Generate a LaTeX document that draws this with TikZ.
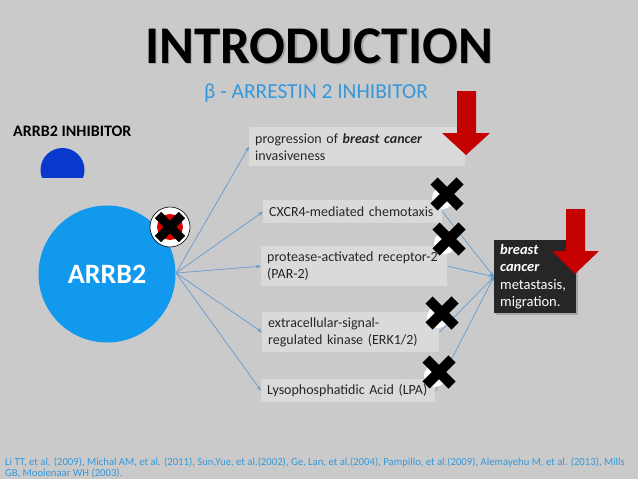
\documentclass[tikz,border=0pt]{standalone}
\usepackage{fontspec}
\setmainfont{Carlito}
\usetikzlibrary{arrows.meta}
\definecolor{bggray}{RGB}{202,202,202}
\definecolor{boxgray}{RGB}{218,218,218}
\definecolor{darkbox}{RGB}{38,38,38}
\definecolor{titleblue}{RGB}{52,152,219}
\definecolor{circblue}{RGB}{17,153,238}
\definecolor{inhblue}{RGB}{8,56,204}
\definecolor{arrowred}{RGB}{196,0,0}
\definecolor{linkblue}{RGB}{100,155,210}
\tikzset{
  lightbox/.style={fill=boxgray, draw=none, anchor=north west, align=left,
    inner xsep=6pt, inner ysep=2pt, font=\fontsize{14}{17}\selectfont, text=black!85,
    execute at begin node={\hyphenpenalty=10000\exhyphenpenalty=10000}},
  link/.style={draw=linkblue, line width=0.7pt, -{Stealth[length=5pt,width=3.5pt]}},
  redarrow/.style={fill=arrowred, draw=none},
  xmark/.pic={
    \fill[white] (-4,4) circle (11);
    \draw[black, line width=10pt] (-13,-13) -- (13,13) (-13,13) -- (13,-13);
  }
}
\begin{document}
\begin{tikzpicture}[x=1pt,y=-1pt]
\useasboundingbox (0,0) rectangle (638,479);
\fill[bggray] (0,0) rectangle (638,479);

% title
\node[anchor=base, text=black!50, opacity=0.5, font=\fontsize{53}{53}\selectfont\bfseries] at (320.5,64.5) {INTRODUCTION};
\node[anchor=base, text=black, font=\fontsize{53}{53}\selectfont\bfseries] (title) at (319,63) {INTRODUCTION};
\node[anchor=base, text=titleblue, font=\fontsize{21.4}{21.4}\selectfont] (subtitle) at (316,98) {β - ARRESTIN 2 INHIBITOR};

% inhibitor
\node[anchor=base west, inner xsep=0pt, font=\fontsize{16}{16}\selectfont\bfseries] (inhlabel) at (13,136) {ARRB2 INHIBITOR};
\begin{scope}
  \clip (30,140) rectangle (95,177);
  \fill[inhblue] (62.5,170) circle (22);
\end{scope}

% ARRB2 circle
\node[circle, fill=circblue, minimum size=137pt, inner sep=0pt, text=white,
      font=\fontsize{28}{28}\selectfont\bfseries] (arrb) at (107,274) {ARRB2};
\coordinate (src) at (176,273);

% boxes
\node[lightbox, minimum height=39pt, text width=204pt] (b1) at (249,127)
  {progression of \textbf{\itshape breast cancer}\\invasiveness};
\node[lightbox, minimum height=23pt, text width=167pt] (b2) at (263,200)
  {CXCR4-mediated chemotaxis};
\node[lightbox, minimum height=40pt, text width=174pt] (b3) at (261,246)
  {protease-activated receptor-2\\(PAR-2)};
\node[lightbox, minimum height=40pt, text width=165pt] (b4) at (262,312)
  {extracellular-signal-\\regulated kinase (ERK1/2)};
\node[lightbox, minimum height=23pt, text width=162pt] (b5) at (261,379)
  {Lysophosphatidic Acid (LPA)};

% dark box
\fill[black!50, opacity=0.5] (496,242) rectangle (578,315);
\node[fill=darkbox, anchor=north west, align=left, inner xsep=6pt, inner ysep=3pt,
      minimum height=73pt, text width=70pt, text=white,
      font=\fontsize{14.5}{17.5}\selectfont] (d) at (494,240)
  {\textbf{\itshape breast}\\\textbf{\itshape cancer}\\metastasis,\\migration.};

% connectors from ARRB2
\draw[link] (src) -- (b1.west);
\draw[link] (src) -- (b2.west);
\draw[link] (src) -- (b3.west);
\draw[link] (src) -- (b4.west);
\draw[link] (src) -- (b5.west);

% connectors to dark box
\draw[link] (b2.east) -- (d.west);
\draw[link] (b3.east) -- (d.west);
\draw[link] (b4.east) -- (d.west);
\draw[link] (b5.east) -- (d.west);

% red arrows
\fill[redarrow] (457,91) -- (476,91) -- (476,133) -- (490,133) -- (466,155) -- (442,133) -- (457,133) -- cycle;
\fill[redarrow] (566,209) -- (585,209) -- (585,251) -- (599,251) -- (575,274) -- (552,251) -- (566,251) -- cycle;

% X marks
\pic at (447,194) {xmark};
\pic at (449,239) {xmark};
\pic at (442,313) {xmark};
\pic at (439,372) {xmark};

% inhibited circle
\draw[black, fill=white, line width=0.6pt] (170,227) circle (20);
\fill[red!85!black] (170,227) circle (13);
\draw[black, line width=9pt] (158,215) -- (182,239) (158,239) -- (182,215);

% citation
\node[anchor=north west, align=left, text=titleblue, inner sep=0pt,
      font=\fontsize{10.7}{10.5}\selectfont] (cite) at (5,457.5)
  {Li TT, et al. (2009), Michal AM, et al. (2011), Sun,Yue, et al.(2002), Ge, Lan, et al.(2004), Pampillo, et al.(2009), Alemayehu M, et al. (2013), Mills\\GB, Moolenaar WH (2003).};
\end{tikzpicture}
\end{document}
